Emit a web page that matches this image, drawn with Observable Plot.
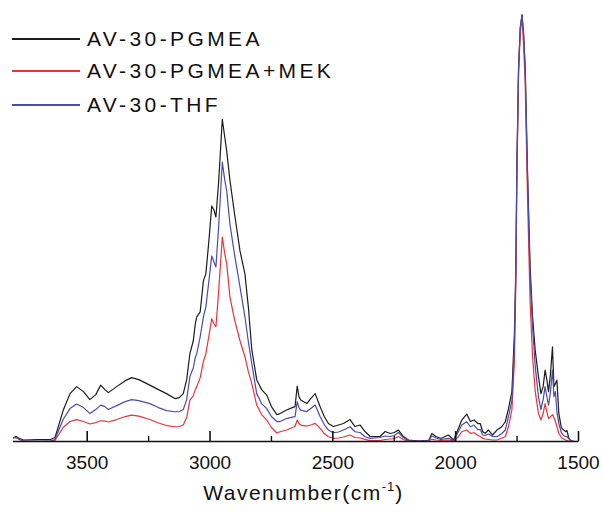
<!DOCTYPE html>
<html><head><meta charset="utf-8">
<script src="https://cdn.jsdelivr.net/npm/d3@7"></script>
<script src="https://cdn.jsdelivr.net/npm/@observablehq/plot@0.6"></script>
<style>
body{margin:0;background:#fff;}
#wrap{position:relative;width:603px;height:513px;font-family:"Liberation Sans",Arial,sans-serif;overflow:hidden;}
#wrap svg{position:absolute;left:0;top:0;}
.leg{position:absolute;left:12px;height:24px;display:flex;align-items:center;font-size:21px;letter-spacing:3.4px;color:#111;white-space:nowrap;}
.leg .sw{display:inline-block;width:68px;height:2px;margin-right:7px;}
#xtitle{position:absolute;left:2px;width:603px;text-align:center;top:482px;font-size:21px;line-height:21px;letter-spacing:1.5px;color:#111;white-space:nowrap;}
#xtitle sup{font-size:13px;vertical-align:0;position:relative;top:-9px;letter-spacing:1px;}
</style></head>
<body>
<div id="wrap"></div>
<script>
// Wavenumber grid (cm^-1)
const wavenumbers = [3800,3790,3775,3760,3700,3650,3631,3598,3570,3543,3515,3489,3465,3445,3428,3414,3380,3345,3319,3290,3245,3210,3177,3143,3125,3109,3095,3082,3068,3060,3054,3040,3027,3017,3005,2993,2984,2976,2965,2950,2940,2932,2919,2900,2878,2858,2844,2830,2810,2790,2769,2750,2728,2715,2688,2665,2654,2645,2638,2631,2606,2590,2572,2552,2535,2518,2498,2477,2457,2430,2410,2389,2369,2348,2308,2287,2267,2250,2233,2213,2192,2150,2110,2097,2080,2060,2030,2008,1989,1975,1955,1940,1925,1910,1900,1890,1880,1866,1850,1832,1812,1798,1785,1771,1761,1755,1751,1744,1737,1730,1724,1717,1708,1697,1687,1676,1663,1653,1644,1636,1629,1622,1614,1606,1600,1594,1588,1580,1570,1561,1552,1547,1540,1534,1525,1515,1500];
// Absorbance (a.u.)
const pgmea = [4,5,3,1.5,2,2,4,31,48,55,50,42,47,56.5,52,49,55,61,64,62,56.5,52,48,43,44,48,62,88,101,118,125,130,161,168,200,236,232,225,260,323,305,291,262,228,191,168,135,92,62,52,46.5,35,27,28,31.5,34,35,55.5,45,41.5,38,43,48,35,25,18,15,16.5,18,22,15,16.5,10,5,5,10,8,9,11.5,5,1.5,0.5,1,8,5,3,6.5,1.5,13,21.5,27.5,20,21.5,18,18,9.8,8.2,11.5,6.5,11.5,14.8,19.8,33,50,108,175,275,375,415,428,410,375,275,175,125,91,65,48,55,71.5,62,50,68,94.8,55,58,61.5,28,14,11.5,10,11,4,1.5,0.5,0,0];
const pgmeaMek = [3.5,4,2,0.5,0,0.5,1,14,20,22,20,17.5,19,20.8,20.5,19.5,22,25,26.5,25.5,22,18.5,16,14.8,15,16.5,24,41.5,46,52,55,64,80,88,105,123,118,115,150,205,188,178,145,122,101,85,70,58,36.5,27,21.5,14,8.5,9.8,11.5,14,15,21.5,18,16.5,15.5,16.5,18.2,13.2,8,4.8,3.2,3.5,4.5,6.5,4,3.5,2.2,0.8,1,2,2.5,3,5,2,0,0,0.5,2.2,1.5,1,1.5,0.5,4.8,9.8,11.5,8.2,8.8,6,5,3.2,2.5,2,1.5,1.5,3.5,4.8,15,32,80,160,260,370,410,425,400,360,250,140,85,50,28,21.5,28,38,30,23,25,27,24,20,15,8,4,2.5,1.5,0.8,0.5,0,0,0,0];
const thf = [3.5,4,2,0.5,0.5,0.5,2,22,33,37.5,34,28,32,36.5,35,32,36,40,42,41,38,34,31,29.8,30,32,42,65,74,84,88,105,125,135,160,186,180,175,215,280,262,251,218,187,155,125,100,78,48,38,33,25,20,20,23,24.5,25,40,34,31.5,30,33,36.5,25,17,11.5,8.8,9.5,11.5,14.8,9.8,9,4.8,3.2,4,5.5,5,6,9,4,0.8,0.3,1,5.5,3.5,2,3.2,1,9.8,16.5,19.8,14.8,16.5,12,12,6.5,6,7.5,5,4.8,8,11.5,25,41,95,170,270,372,415,427,410,372,270,165,115,75,45,32,42,55,45,36.5,50,71.5,45,50,30,18,9,6,5,4.8,3,1.5,0.5,0,0];
const seriesNames = ["AV-30-PGMEA","AV-30-PGMEA+MEK","AV-30-THF"];
const seriesColors = ["#1c1c1c","#e8343f","#4b4bab"];
const majorTicks = [3500,3000,2500,2000,1500];
const minorTicks = [3250,2750,2250,1750];

const seriesValues = [pgmea, pgmeaMek, thf];
const rows = [];
seriesValues.forEach((vals, s) => wavenumbers.forEach((w, i) => rows.push({w, a: vals[i], s: seriesNames[s]})));

const chart = Plot.plot({
  width: 603, height: 513,
  marginLeft: 13, marginRight: 25, marginTop: 14, marginBottom: 72,
  style: {fontFamily: '"Liberation Sans", Arial, sans-serif', background: "transparent"},
  x: {domain: [3800, 1500]},
  y: {domain: [0, 428], axis: null},
  color: {domain: seriesNames, range: seriesColors},
  marks: [
    Plot.line(rows, {x: "w", y: "a", z: "s", stroke: "s", strokeWidth: 1.2}),
    Plot.ruleY([0], {stroke: "#111", strokeWidth: 1.6}),
    Plot.axisX({ticks: majorTicks, tickSize: 10, dy: -10, tickFormat: () => "", label: null, stroke: "#111", strokeWidth: 1.6}),
    Plot.axisX({ticks: minorTicks, tickSize: 5, dy: -5, tickFormat: () => "", label: null, stroke: "#111", strokeWidth: 1.4}),
    Plot.axisX({ticks: majorTicks, tickSize: 0, tickPadding: 14, tickFormat: d => String(d), fontSize: 19, fill: "#111", label: null})
  ]
});
const wrap = document.getElementById("wrap");
wrap.appendChild(chart);

const legendTops = [27, 59, 93];
seriesNames.forEach((n, i) => {
  const d = document.createElement("div");
  d.className = "leg";
  d.style.top = legendTops[i] + "px";
  d.innerHTML = `<span class="sw" style="background:${seriesColors[i]}"></span><span>${n}</span>`;
  wrap.appendChild(d);
});
const t = document.createElement("div");
t.id = "xtitle";
t.innerHTML = "Wavenumber(cm<sup>-1</sup>)";
wrap.appendChild(t);
</script>
</body></html>
